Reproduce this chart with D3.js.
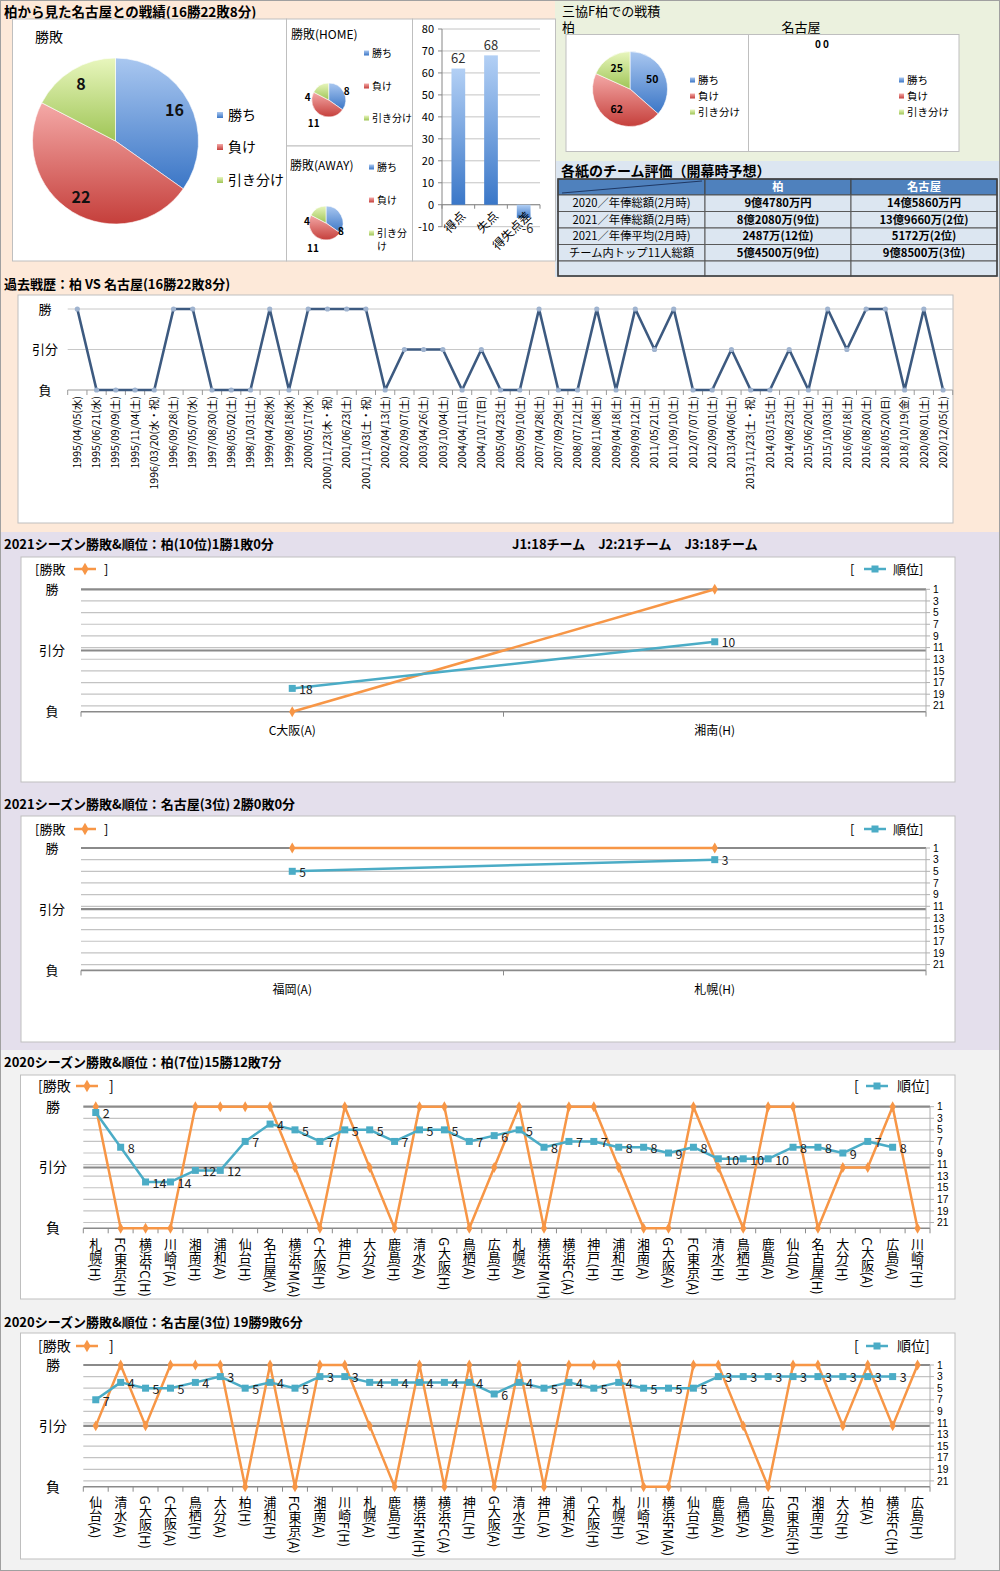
<!DOCTYPE html>
<html>
<head>
<meta charset="utf-8">
<script src="https://cdn.jsdelivr.net/npm/d3@7/dist/d3.min.js"></script>
<style>
html,body{margin:0;padding:0;background:#ffffff;}
svg text{font-family:"Noto Sans CJK JP","Noto Sans",sans-serif;fill:#000;}
</style>
</head>
<body>
<svg id="chart" width="1000" height="1571"></svg>
<script>
// ---------------- data ----------------
const resultLabels = ["勝ち","負け","引き分け"];
const overallRecord = [16,22,8];
const homeRecord = [8,11,4];
const awayRecord = [8,11,4];
const goalCategories = ["得点","失点","得失点差"];
const goalValues = [62,68,-6];
const goalTicks = [-10,0,10,20,30,40,50,60,70,80];
const sankyoKashiwa = [50,62,25];
const sankyoNagoya = [0,0,0];
const tableTeams = ["柏","名古屋"];
const tableItems = ["2020／年俸総額(2月時)","2021／年俸総額(2月時)","2021／年俸平均(2月時)","チーム内トップ11人総額",""];
const tableKashiwa = ["9億4780万円","8億2080万(9位)","2487万(12位)","5億4500万(9位)",""];
const tableNagoya = ["14億5860万円","13億9660万(2位)","5172万(2位)","9億8500万(3位)",""];

const historyDates = ["1995/04/05(水)","1995/06/21(水)","1995/09/09(土)","1995/11/04(土)","1996/03/20(水・祝)","1996/09/28(土)","1997/05/07(水)","1997/08/30(土)","1998/05/02(土)","1998/10/31(土)","1999/04/28(水)","1999/08/18(水)","2000/05/17(水)","2000/11/23(木・祝)","2001/06/23(土)","2001/11/03(土・祝)","2002/04/13(土)","2002/09/07(土)","2003/04/26(土)","2003/10/04(土)","2004/04/11(日)","2004/10/17(日)","2005/04/23(土)","2005/09/10(土)","2007/04/28(土)","2007/09/29(土)","2008/07/12(土)","2008/11/08(土)","2009/04/18(土)","2009/09/12(土)","2011/05/21(土)","2011/09/10(土)","2012/07/07(土)","2012/09/01(土)","2013/04/06(土)","2013/11/23(土・祝)","2014/03/15(土)","2014/08/23(土)","2015/06/20(土)","2015/10/03(土)","2016/06/18(土)","2016/08/20(土)","2018/05/20(日)","2018/10/19(金)","2020/08/01(土)","2020/12/05(土)"];
const historyResults = ["W","L","L","L","L","W","W","L","L","L","W","L","W","W","W","W","L","D","D","D","L","D","L","L","W","L","L","W","L","W","D","W","L","L","D","L","L","D","L","W","D","W","W","L","W","L"];

const resultLevels = ["W","D","L"];
const resultAxisLabels = ["勝","引分","負"];
const rankTicks = [1,3,5,7,9,11,13,15,17,19,21];

const k21Opponents = ["C大阪(A)","湘南(H)"];
const k21Results = ["L","W"];
const k21Ranks = [18,10];
const n21Opponents = ["福岡(A)","札幌(H)"];
const n21Results = ["W","W"];
const n21Ranks = [5,3];

const k20Opponents = ["札幌(H)","FC東京(H)","横浜FC(H)","川崎F(A)","湘南(H)","浦和(A)","仙台(H)","名古屋(A)","横浜FM(A)","C大阪(H)","神戸(A)","大分(A)","鹿島(H)","清水(A)","G大阪(H)","鳥栖(A)","広島(H)","札幌(A)","横浜FM(H)","横浜FC(A)","神戸(H)","浦和(H)","湘南(A)","G大阪(A)","FC東京(A)","清水(H)","鳥栖(H)","鹿島(A)","仙台(A)","名古屋(H)","大分(H)","C大阪(A)","広島(A)","川崎F(H)"];
const k20Results = ["W","L","L","L","W","W","W","W","D","L","W","D","L","W","W","L","D","W","L","W","W","D","L","L","W","D","L","W","W","L","D","D","W","L"];
const k20Ranks = [2,8,14,14,12,12,7,4,5,7,5,5,7,5,5,7,6,5,8,7,7,8,8,9,8,10,10,10,8,8,9,7,8,null];

const n20Opponents = ["仙台(A)","清水(A)","G大阪(H)","C大阪(A)","鳥栖(H)","大分(A)","柏(H)","浦和(H)","FC東京(A)","湘南(A)","川崎F(H)","札幌(A)","鹿島(H)","横浜FM(H)","横浜FC(A)","神戸(H)","G大阪(A)","清水(H)","神戸(A)","浦和(A)","C大阪(H)","札幌(H)","川崎F(A)","横浜FM(A)","仙台(H)","鹿島(A)","鳥栖(A)","広島(A)","FC東京(H)","湘南(H)","大分(H)","柏(A)","横浜FC(H)","広島(H)"];
const n20Results = ["D","W","D","W","W","W","L","W","L","W","W","D","L","W","L","W","L","W","L","W","W","W","L","L","W","W","D","L","W","W","D","W","D","W"];
const n20Ranks = [7,4,5,5,4,3,5,4,5,3,3,4,4,4,4,4,6,4,5,4,5,4,5,5,5,3,3,3,3,3,3,3,3,null];

// ---------------- drawing ----------------
const svg = d3.select("#chart");
const defs = svg.append("defs");
function grad(id, c1, c2){
  const g = defs.append("linearGradient").attr("id",id).attr("x1",0).attr("y1",0).attr("x2",0).attr("y2",1);
  g.append("stop").attr("offset","0%").attr("stop-color",c1);
  g.append("stop").attr("offset","100%").attr("stop-color",c2);
}
grad("gB","#a9c7f0","#3b76c6");
grad("gR","#f4a9a7","#c53f3b");
grad("gG","#e8f6bd","#9fc556");
grad("gBar","#b3d0f5","#3a77c8");
const pieFills = ["url(#gB)","url(#gR)","url(#gG)"];

function rect(x,y,w,h,fill,stroke){
  return svg.append("rect").attr("x",x).attr("y",y).attr("width",w).attr("height",h)
    .attr("fill",fill).attr("stroke",stroke||"none");
}
function text(x,y,t,size,opts){
  opts = opts||{};
  return svg.append("text").attr("x",x).attr("y",y).attr("dy","0.35em")
    .attr("font-size",size).attr("font-weight",opts.bold?"bold":"normal")
    .attr("text-anchor",opts.anchor||"start").style("fill",opts.fill||"#000").text(t);
}

// backgrounds
rect(0,0,1000,532,"#fde9d9");
rect(555,0,445,161,"#ebf1de");
rect(555,161,445,116,"#dce6f1");
rect(0,532,1000,518,"#e4dfec");
rect(0,1050,1000,521,"#f2f2f2");

// ===== top-left: overall record =====
text(4,12,"柏から見た名古屋との戦績(16勝22敗8分)",13.5,{bold:true});
rect(12.5,19,274,242,"#fff","#bfbfbf");
rect(286.5,19,126,127,"#fff","#bfbfbf");
rect(286.5,146,126,115,"#fff","#bfbfbf");
rect(412.5,19,143,242,"#fff","#bfbfbf");

function drawPie(values,cx,cy,r){
  const arcs = d3.pie().sort(null)(values);
  const arc = d3.arc().innerRadius(0).outerRadius(r);
  const g = svg.append("g").attr("transform",`translate(${cx},${cy})`);
  g.selectAll("path").data(arcs).join("path").attr("d",arc)
    .attr("fill",(d,i)=>pieFills[i]).attr("stroke","#ffffff").attr("stroke-width",0.6);
  return {g,arcs};
}
function legend(x,ys,labels,size,fs,tx){
  labels.forEach((l,i)=>{
    svg.append("rect").attr("x",x).attr("y",ys[i]-size/2).attr("width",size).attr("height",size).attr("fill",pieFills[i]);
    if(l) text(x+size+(tx||3),ys[i],l,fs);
  });
}

// main pie
text(35,37,"勝敗",14);
{
  const cx=115.5, cy=141, r=83;
  const {g,arcs} = drawPie(overallRecord,cx,cy,r);
  const la = d3.arc().innerRadius(r*0.8).outerRadius(r*0.8);
  g.selectAll("text").data(arcs).join("text")
    .attr("transform",d=>`translate(${la.centroid(d)})`)
    .attr("text-anchor","middle").attr("dy","0.35em")
    .attr("font-size",16).attr("font-weight","bold").style("fill","#111")
    .text(d=>d.data);
  legend(217,[115,147,180],resultLabels,6,14,5);
}
// home pie
text(291,35,"勝敗(HOME)",12);
{
  const {g,arcs} = drawPie(homeRecord,328.7,100,17);
  const offs=[[18,-9],[-15,23],[-21,-3]];
  g.selectAll("text").data(arcs).join("text")
    .attr("x",(d,i)=>offs[i][0]).attr("y",(d,i)=>offs[i][1]).attr("dy","0.35em")
    .attr("text-anchor","middle").attr("font-size",10).attr("font-weight","bold").text(d=>d.data);
  legend(364,[53,86,118],resultLabels,5,10);
}
// away pie
text(290,166,"勝敗(AWAY)",12);
{
  const {g,arcs} = drawPie(awayRecord,326,223,17);
  const offs=[[15,8],[-13,25],[-19,-2]];
  g.selectAll("text").data(arcs).join("text")
    .attr("x",(d,i)=>offs[i][0]).attr("y",(d,i)=>offs[i][1]).attr("dy","0.35em")
    .attr("text-anchor","middle").attr("font-size",10).attr("font-weight","bold").text(d=>d.data);
  legend(369,[167,200,233],[resultLabels[0],resultLabels[1],"引き分"],5,10);
  text(377,246,"け",10);
}
// goals bar chart
{
  const y = d3.scaleLinear().domain([-10,80]).range([226.7,29]);
  const x = d3.scaleBand().domain(goalCategories).range([442,540]);
  const g = svg.append("g");
  g.selectAll(".grid").data(goalTicks).join("line")
    .attr("x1",442).attr("x2",540).attr("y1",d=>y(d)).attr("y2",d=>y(d))
    .attr("stroke","#c4c4c4");
  g.append("line").attr("x1",442).attr("x2",442).attr("y1",y(80)).attr("y2",y(-10)).attr("stroke","#868686");
  g.selectAll(".tk").data(goalTicks).join("line")
    .attr("x1",438).attr("x2",442).attr("y1",d=>y(d)).attr("y2",d=>y(d)).attr("stroke","#868686");
  g.selectAll(".tl").data(goalTicks).join("text")
    .attr("x",434).attr("y",d=>y(d)).attr("dy","0.35em").attr("text-anchor","end")
    .attr("font-size",11).text(d=>d);
  g.append("line").attr("x1",442).attr("x2",540).attr("y1",y(0)).attr("y2",y(0)).attr("stroke","#868686");
  g.selectAll(".xt").data(d3.range(goalCategories.length+1)).join("line")
    .attr("x1",d=>442+d*x.step()).attr("x2",d=>442+d*x.step())
    .attr("y1",y(0)).attr("y2",y(0)+4).attr("stroke","#868686");
  const bw = x.bandwidth()*0.42;
  g.selectAll(".bar").data(goalValues).join("rect")
    .attr("x",(d,i)=>x(goalCategories[i])+x.bandwidth()/2-bw/2)
    .attr("y",d=>y(Math.max(d,0))).attr("width",bw)
    .attr("height",d=>Math.abs(y(d)-y(0))).attr("fill","url(#gBar)");
  g.selectAll(".vl").data(goalValues).join("text")
    .attr("x",(d,i)=>x(goalCategories[i])+x.bandwidth()/2+(d<0?4:0))
    .attr("y",d=>d>=0?y(d)-10:y(d)+11).attr("dy","0.35em")
    .attr("text-anchor","middle").attr("font-size",13).style("fill","#333").text(d=>d);
  g.selectAll(".xl").data(goalCategories).join("text")
    .attr("transform",d=>`translate(${x(d)+x.bandwidth()/2+5},${y(0)+9}) rotate(-45)`)
    .attr("text-anchor","end").attr("dy","0.35em").attr("font-size",12).text(d=>d);
}

// ===== top-right: Sankyo F Kashiwa =====
text(562,11,"三協F柏での戦積",13);
text(562,27,"柏",13);
text(801,27,"名古屋",13,{anchor:"middle"});
rect(566,34.5,182.5,117,"#fff","#bfbfbf");
rect(748.5,34.5,210.5,117,"#fff","#bfbfbf");
{
  const r=37.5;
  const {g,arcs} = drawPie(sankyoKashiwa,630,89,r);
  const la = d3.arc().innerRadius(r*0.65).outerRadius(r*0.65);
  g.selectAll("text").data(arcs).join("text")
    .attr("transform",d=>`translate(${la.centroid(d)})`)
    .attr("text-anchor","middle").attr("dy","0.35em")
    .attr("font-size",10.5).attr("font-weight","bold").text(d=>d.data);
  legend(690,[80,96,112],resultLabels,5,10.5);
  // zero-valued Nagoya pie: only labels remain visible
  const z = d3.pie().sort(null)(sankyoNagoya);
  svg.selectAll(".zl").data(z.slice(0,2)).join("text")
    .attr("x",(d,i)=>818+i*8).attr("y",44).attr("dy","0.35em")
    .attr("text-anchor","middle").attr("font-size",10).attr("font-weight","bold").text(d=>d.data);
  legend(899,[80,96,112],resultLabels,5,10.5);
}

// ===== table =====
text(561,171,"各紙のチーム評価（開幕時予想）",14,{bold:true});
{
  const cols=[558,705,851,997];
  const rows=[179,195,211.5,228,244.5,261,276];
  for(let c=0;c<3;c++) rect(cols[c],rows[0],cols[c+1]-cols[c],rows[1]-rows[0],"#4f81bd","#404040");
  svg.append("line").attr("x1",cols[0]+4).attr("y1",rows[1]-2).attr("x2",cols[1]-3).attr("y2",rows[0]+2)
    .attr("stroke","#1f3864").attr("stroke-width",1.2);
  tableTeams.forEach((t,i)=>text((cols[i+1]+cols[i+2])/2,(rows[0]+rows[1])/2,t,11.3,{bold:true,anchor:"middle",fill:"#fff"}));
  tableItems.forEach((it,r)=>{
    const y0=rows[r+1], y1=rows[r+2];
    for(let c=0;c<3;c++) rect(cols[c],y0,cols[c+1]-cols[c],y1-y0,"#dce6f1","#595959");
    const cy=(y0+y1)/2;
    text((cols[0]+cols[1])/2,cy,it,11.3,{anchor:"middle"});
    text((cols[1]+cols[2])/2,cy,tableKashiwa[r],11.3,{anchor:"middle",bold:true});
    text((cols[2]+cols[3])/2,cy,tableNagoya[r],11.3,{anchor:"middle",bold:true});
  });
  rect(cols[0],rows[0],cols[3]-cols[0],rows[6]-rows[0],"none","#404040").attr("stroke-width",1.5);
}

// ===== history chart =====
text(4,284,"過去戦歴：柏 VS 名古屋(16勝22敗8分)",13,{bold:true});
rect(18,295,935,228,"#fff","#bfbfbf");
{
  const x = d3.scaleBand().domain(historyDates).range([67.7,952.7]);
  const y = d3.scalePoint().domain(resultLevels).range([309,390]);
  const g = svg.append("g");
  ["W","D"].forEach(r=>g.append("line").attr("x1",67.7).attr("x2",952.7).attr("y1",y(r)).attr("y2",y(r)).attr("stroke","#c8c8c8"));
  g.append("line").attr("x1",67.7).attr("x2",952.7).attr("y1",y("L")).attr("y2",y("L")).attr("stroke","#9a9a9a");
  g.selectAll(".tk").data(d3.range(historyDates.length+1)).join("line")
    .attr("x1",d=>67.7+d*x.step()).attr("x2",d=>67.7+d*x.step())
    .attr("y1",y("L")).attr("y2",y("L")+5).attr("stroke","#9a9a9a");
  resultLevels.forEach((r,i)=>text(45,y(r),resultAxisLabels[i],13,{anchor:"middle"}));
  const line = d3.line().x((d,i)=>x(historyDates[i])+x.bandwidth()/2).y(d=>y(d));
  g.append("path").datum(historyResults).attr("d",line).attr("fill","none")
    .attr("stroke","#3d5a80").attr("stroke-width",2.6).attr("stroke-linejoin","round");
  g.selectAll(".mk").data(historyResults).join("circle")
    .attr("cx",(d,i)=>x(historyDates[i])+x.bandwidth()/2).attr("cy",d=>y(d)).attr("r",2.6)
    .attr("fill","#9fb3cf");
  g.selectAll(".xl").data(historyDates).join("text")
    .attr("transform",d=>`translate(${x(d)+x.bandwidth()/2},396) rotate(-90)`)
    .attr("text-anchor","end").attr("dy","0.35em").attr("font-size",10.5).text(d=>d);
}

// ===== season charts =====
function seasonChart(o){
  const {opp,res,rank,box,x0,x1,top,bottom,vertical} = o;
  rect(box[0],box[1],box[2]-box[0],box[3]-box[1],"#fff","#bfbfbf");
  const x = d3.scaleBand().domain(d3.range(opp.length)).range([x0,x1]);
  const y = d3.scaleLinear().domain([1,22]).range([top,bottom]);
  const resVal = {W:1,D:11.5,L:22};
  const cx = i=>x(i)+x.bandwidth()/2;
  const g = svg.append("g");
  g.selectAll(".gl").data(rankTicks.slice(1)).join("line")
    .attr("x1",x0).attr("x2",x1).attr("y1",d=>y(d)).attr("y2",d=>y(d))
    .attr("stroke","#c3c3c3").attr("stroke-width",1.2);
  [[1,2.2],[11.5,2.2],[22,1.6]].forEach(([v,w])=>g.append("line")
    .attr("x1",x0).attr("x2",x1).attr("y1",y(v)).attr("y2",y(v))
    .attr("stroke","#8a8a8a").attr("stroke-width",w));
  g.append("line").attr("x1",x1).attr("x2",x1).attr("y1",top).attr("y2",bottom).attr("stroke","#b0b0b0");
  g.selectAll(".rt").data(rankTicks).join("line")
    .attr("x1",x1).attr("x2",x1+4).attr("y1",d=>y(d)).attr("y2",d=>y(d)).attr("stroke","#b0b0b0");
  g.selectAll(".rl").data(rankTicks).join("text")
    .attr("x",x1+7).attr("y",d=>y(d)).attr("dy","0.35em")
    .style("font-family","'Liberation Sans',Arial,sans-serif")
    .attr("font-size",o.tickFont).text(d=>d);
  resultLevels.forEach((r,i)=>text(o.leftX,y(resVal[r]),resultAxisLabels[i],o.leftFont,{anchor:"middle"}));
  g.selectAll(".xt").data(d3.range(opp.length+1)).join("line")
    .attr("x1",d=>x0+d*x.step()).attr("x2",d=>x0+d*x.step())
    .attr("y1",bottom).attr("y2",bottom+5).attr("stroke","#8a8a8a");
  if(vertical){
    g.selectAll(".xl").data(opp).join("text")
      .attr("x",(d,i)=>cx(i)).attr("y",bottom+9)
      .style("writing-mode","vertical-rl").style("text-orientation","mixed")
      .attr("font-size",13).text(d=>d);
  } else {
    g.selectAll(".xl").data(opp).join("text")
      .attr("x",(d,i)=>cx(i)).attr("y",bottom+19).attr("dy","0.35em")
      .attr("text-anchor","middle").attr("font-size",12).text(d=>d);
  }
  // result line
  const lr = d3.line().x((d,i)=>cx(i)).y(d=>y(resVal[d]));
  g.append("path").datum(res).attr("d",lr).attr("fill","none")
    .attr("stroke","#f79646").attr("stroke-width",2.5).attr("stroke-linejoin","round");
  g.selectAll(".dm").data(res).join("path")
    .attr("transform",(d,i)=>`translate(${cx(i)},${y(resVal[d])})`)
    .attr("d",d3.symbol(d3.symbolDiamond,34)).attr("fill","#f79646");
  // rank line
  const lk = d3.line().defined(d=>d!=null).x((d,i)=>cx(i)).y(d=>y(d));
  g.append("path").datum(rank).attr("d",lk).attr("fill","none")
    .attr("stroke","#4bacc6").attr("stroke-width",2.5).attr("stroke-linejoin","round");
  const pts = rank.map((d,i)=>({d,i})).filter(p=>p.d!=null);
  g.selectAll(".sq").data(pts).join("rect")
    .attr("x",p=>cx(p.i)-3.5).attr("y",p=>y(p.d)-3.5).attr("width",7).attr("height",7)
    .attr("fill","#4bacc6");
  g.selectAll(".lbl").data(pts).join("text")
    .attr("x",p=>cx(p.i)+7).attr("y",p=>y(p.d)+1.5).attr("dy","0.35em")
    .attr("font-size",o.rankFont).style("fill","#222").text(p=>p.d);
  // legends
  const ly=o.legendY;
  text(o.legL[0],ly,"[勝敗",o.legFont);
  g.append("line").attr("x1",o.legL[1]).attr("x2",o.legL[1]+22).attr("y1",ly).attr("y2",ly).attr("stroke","#f79646").attr("stroke-width",2.5);
  g.append("path").attr("transform",`translate(${o.legL[1]+11},${ly})`).attr("d",d3.symbol(d3.symbolDiamond,45)).attr("fill","#f79646");
  text(o.legL[2],ly,"]",o.legFont);
  text(o.legR[0],ly,"[",o.legFont);
  g.append("line").attr("x1",o.legR[1]).attr("x2",o.legR[1]+22).attr("y1",ly).attr("y2",ly).attr("stroke","#4bacc6").attr("stroke-width",2.5);
  g.append("rect").attr("x",o.legR[1]+7.5).attr("y",ly-3.5).attr("width",7).attr("height",7).attr("fill","#4bacc6");
  text(o.legR[2],ly,"順位]",o.legFont);
}

// 2021 Kashiwa
text(4,544,"2021シーズン勝敗&順位：柏(10位)1勝1敗0分",13,{bold:true});
text(512,544,"J1:18チーム　J2:21チーム　J3:18チーム",13,{bold:true});
seasonChart({opp:k21Opponents,res:k21Results,rank:k21Ranks,box:[21,557,955,782],
  x0:81,x1:926,top:589.3,bottom:711.7,vertical:false,leftX:52,leftFont:13,tickFont:10.3,rankFont:12,
  legendY:569,legL:[35,74,104],legR:[850,864,893],legFont:13});
// 2021 Nagoya
text(4,804,"2021シーズン勝敗&順位：名古屋(3位) 2勝0敗0分",13,{bold:true});
seasonChart({opp:n21Opponents,res:n21Results,rank:n21Ranks,box:[21,816,955,1042],
  x0:81,x1:926,top:848,bottom:970.4,vertical:false,leftX:52,leftFont:13,tickFont:10.3,rankFont:12,
  legendY:829,legL:[35,74,104],legR:[850,864,893],legFont:13});
// 2020 Kashiwa
text(4,1062,"2020シーズン勝敗&順位：柏(7位)15勝12敗7分",13,{bold:true});
seasonChart({opp:k20Opponents,res:k20Results,rank:k20Ranks,box:[20.5,1075,955,1299],
  x0:83.3,x1:930,top:1106.7,bottom:1228.3,vertical:true,leftX:53,leftFont:14,tickFont:10.3,rankFont:12.5,
  legendY:1086,legL:[38,76,109],legR:[854,866,897],legFont:14});
// 2020 Nagoya
text(4,1322,"2020シーズン勝敗&順位：名古屋(3位) 19勝9敗6分",13,{bold:true});
seasonChart({opp:n20Opponents,res:n20Results,rank:n20Ranks,box:[20.5,1333,955,1559],
  x0:83.3,x1:930,top:1365,bottom:1486.7,vertical:true,leftX:53,leftFont:14,tickFont:10.3,rankFont:12.5,
  legendY:1346,legL:[38,76,109],legR:[854,866,897],legFont:14});

// outer frame
rect(0.5,0.5,999,1570,"none","#a0a0a0");
</script>
</body>
</html>
